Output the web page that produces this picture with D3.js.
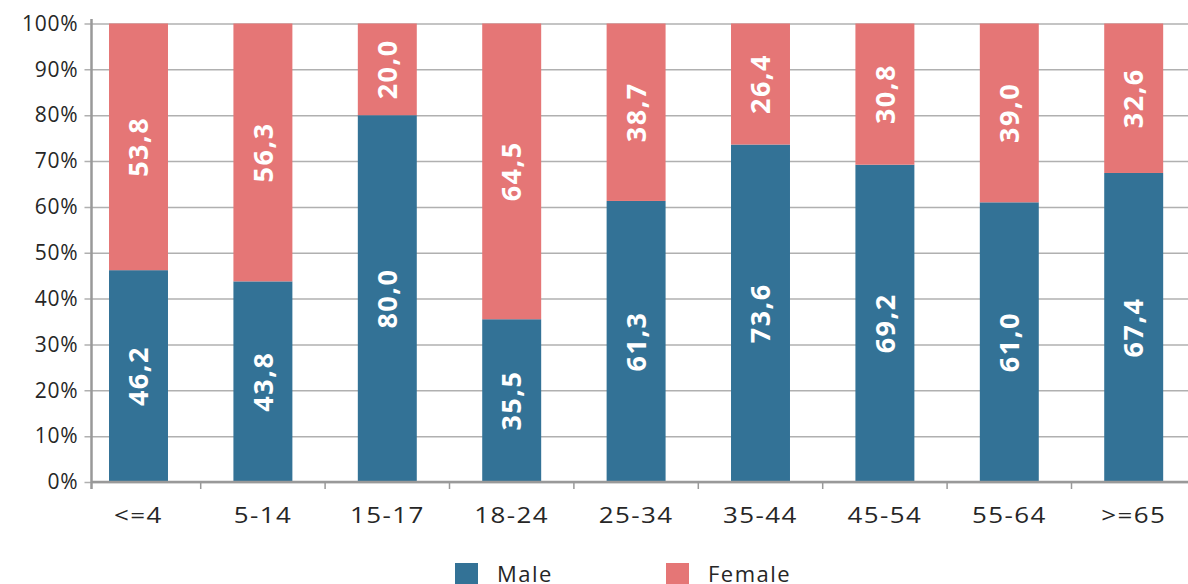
<!DOCTYPE html>
<html><head><meta charset="utf-8">
<script src="https://cdn.jsdelivr.net/npm/d3@7"></script>
<style>body{margin:0;background:#fff}svg{display:block}</style>
</head><body><svg id="c" width="1188" height="584"></svg>
<script>
const categories = ["<=4","5-14","15-17","18-24","25-34","35-44","45-54","55-64",">=65"];
const male = [46.2,43.8,80.0,35.5,61.3,73.6,69.2,61.0,67.4];
const female = [53.8,56.3,20.0,64.5,38.7,26.4,30.8,39.0,32.6];
const seriesNames = ["Male","Female"];
const yTicks = [0,0.1,0.2,0.3,0.4,0.5,0.6,0.7,0.8,0.9,1];
const colors = {Male:"#337296", Female:"#e57676"};

const svg = d3.select("#c");
const rows = categories.map((c,i)=>({cat:c, Male:male[i], Female:female[i]}));
const stack = d3.stack().keys(seriesNames).offset(d3.stackOffsetExpand);
const layers = stack(rows);

const x = d3.scaleBand().domain(categories).range([76.3,1195.9]).paddingInner(0.526).paddingOuter(0.263);
const y = d3.scaleLinear().domain([0,1]).range([482,23.5]);
const axisX = 91.5;

// gridlines + y ticks
const yAxis = d3.axisLeft(y).tickValues(yTicks).tickFormat(d3.format(".0%")).tickSize(7).tickPadding(6);
const gy = svg.append("g").attr("transform",`translate(${axisX},0)`).call(yAxis);
gy.select(".domain").remove();
gy.selectAll(".tick line").attr("stroke","#b0b0b0").attr("stroke-width",1.5).attr("x2",1188-axisX).attr("x1",-7);
gy.selectAll(".tick text").attr("font-family","Open Sans").attr("font-size",21).attr("fill","#262626").attr("letter-spacing",0.8);

// bars
const g = svg.append("g");
layers.forEach(layer=>{
  g.selectAll(null).data(layer).enter().append("rect")
    .attr("x",d=>x(d.data.cat)).attr("width",x.bandwidth())
    .attr("y",d=>y(d[1])).attr("height",d=>y(d[0])-y(d[1]))
    .attr("fill",colors[layer.key]);
});
// labels
layers.forEach(layer=>{
  g.selectAll(null).data(layer).enter().append("text")
    .attr("transform",d=>`translate(${x(d.data.cat)+x.bandwidth()/2},${(y(d[0])+y(d[1]))/2}) rotate(-90)`)
    .attr("text-anchor","middle").attr("dy","0.36em")
    .attr("font-family","Open Sans").attr("font-weight","bold").attr("font-size",27).attr("letter-spacing",1.5)
    .attr("fill","#fff")
    .text(d=>d3.format(".1f")(d.data[layer.key]).replace(".",","));
});

// x axis
const bounds = categories.slice(1).map(c=>x(c)-x.step()*x.paddingInner()/2);
const gx = svg.append("g").attr("transform","translate(0,482)");
gx.append("line").attr("x1",axisX).attr("x2",1188).attr("stroke","#999").attr("stroke-width",2.5);
gx.selectAll(".bt").data(bounds).enter().append("line").attr("class","bt")
  .attr("x1",d=>d).attr("x2",d=>d).attr("y1",0).attr("y2",7).attr("stroke","#999").attr("stroke-width",1.5);
gx.selectAll(".lbl").data(categories).enter().append("text")
  .attr("transform",d=>`translate(${x(d)+x.bandwidth()/2},41) scale(1.18,1)`).attr("text-anchor","middle")
  .attr("font-family","Open Sans").attr("font-size",22).attr("letter-spacing",1.2).attr("fill","#262626").text(d=>d);
// y axis line
svg.append("line").attr("x1",axisX).attr("x2",axisX).attr("y1",19).attr("y2",489).attr("stroke","#999").attr("stroke-width",2.5);

// legend
const leg = svg.append("g");
const legX = {Male:455, Female:666};
seriesNames.forEach(s=>{
  leg.append("rect").attr("x",legX[s]).attr("y",563).attr("width",23).attr("height",23).attr("fill",colors[s]);
  leg.append("text").attr("x",legX[s]+42).attr("y",582).attr("font-family","Open Sans").attr("font-size",22).attr("letter-spacing",1.5).attr("fill","#262626").text(s);
});
</script></body></html>
